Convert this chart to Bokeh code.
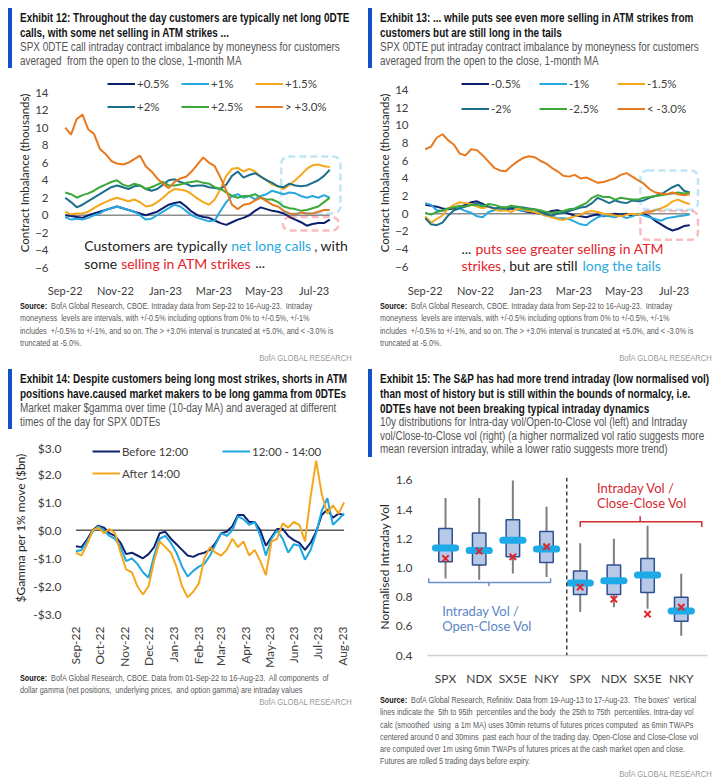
import math
import pandas as pd
from bokeh.plotting import figure
from bokeh.models import (Div, Legend, LegendItem, BoxAnnotation, Label, Span,
                          FixedTicker, MonthsTicker, DatetimeTickFormatter, Range1d,
                          PrintfTickFormatter)
from bokeh.layouts import row, column
from bokeh.embed import file_html
from bokeh.resources import INLINE

# ------------------------------------------------------------------ data
# Exhibits 12/13: weekly readings, 1-month MA contract imbalance (thousands)
imb_dates = pd.date_range("2022-09-01", periods=47, freq="7D")
call_names = ["+0.5%", "+1%", "+1.5%", "+2%", "+2.5%", "> +3.0%"]
call_p05 = [0.0,-0.1,-0.2,-0.3,0.0,0.2,0.4,0.6,0.8,1.0,
            0.8,0.6,0.4,0.2,0.0,0.2,0.4,0.8,1.2,1.4,
            1.5,1.0,0.4,0.0,-0.2,-0.3,-0.6,-0.9,-1.1,-0.8,
            -0.5,-0.3,0.0,0.5,0.9,0.7,0.5,0.4,0.2,-0.2,
            -0.5,-0.8,-1.2,-1.0,-0.9,-0.9,-0.5]
call_p10 = [-0.2,-0.5,-0.4,-0.5,-0.3,0.0,0.2,0.6,0.8,1.0,
            0.8,0.6,0.4,0.0,-0.5,-0.4,0.0,0.4,0.8,1.2,
            1.0,0.5,0.0,-0.3,-0.5,-0.7,-0.6,0.5,1.5,2.2,
            2.4,2.0,2.2,1.8,2.2,2.4,2.8,2.6,2.4,2.6,
            2.5,2.2,2.0,2.2,2.0,2.3,2.0]
call_p15 = [0.4,0.1,0.2,0.2,0.4,0.8,1.2,1.5,1.8,2.0,
            1.8,1.6,1.8,1.5,1.0,1.1,1.5,2.0,2.6,3.0,
            2.9,2.8,2.4,1.9,1.5,1.2,1.8,3.0,4.5,5.3,
            5.4,5.0,5.3,5.0,4.4,4.0,3.5,3.3,3.0,3.5,
            4.0,4.6,5.3,5.7,5.8,5.6,5.5]
call_p20 = [2.0,1.5,0.9,1.2,1.6,2.0,2.4,2.8,3.2,3.4,
            3.2,3.0,3.3,3.4,3.0,2.8,3.0,3.5,4.0,4.1,
            3.8,3.6,3.3,3.4,3.4,3.2,3.1,3.0,3.5,4.5,
            5.0,4.3,4.6,4.8,4.4,4.0,3.7,3.3,3.2,3.6,
            3.4,3.3,3.4,3.7,4.0,4.5,5.2]
call_p25 = [2.6,2.4,2.0,2.3,2.5,2.8,3.2,3.5,3.8,4.0,
            3.5,3.3,3.6,3.4,3.0,3.2,3.5,3.8,3.4,3.4,
            3.5,3.7,3.8,3.9,3.7,3.6,3.2,3.0,2.6,2.2,
            2.0,2.2,2.2,2.4,2.0,1.8,1.8,1.5,1.0,0.8,
            0.7,0.5,0.6,0.8,1.0,1.5,2.0]
call_p30 = [10.0,9.2,11.0,11.5,9.8,9.3,7.6,7.0,6.2,5.9,
            5.8,6.0,6.4,6.8,5.6,5.0,4.2,3.6,3.1,3.8,
            4.2,4.4,5.0,5.8,6.6,6.0,5.6,4.3,2.8,1.2,
            0.7,1.2,1.3,1.7,2.0,1.6,1.2,1.0,0.5,0.2,
            0.1,0.3,0.2,0.2,0.4,0.6,0.6]

put_names = ["-0.5%", "-1%", "-1.5%", "-2%", "-2.5%", "< -3.0%"]
put_m05 = [1.0,0.9,0.8,0.6,0.5,0.6,0.8,1.0,1.3,1.4,
           1.1,0.8,0.6,0.4,0.5,0.6,0.5,0.3,0.2,0.1,
           0.0,0.1,0.3,0.4,0.2,0.0,-0.2,-0.3,-0.4,-0.2,
           -0.1,-0.3,-0.2,0.0,-0.1,0.0,-0.2,-0.1,0.0,-0.3,
           -0.8,-1.2,-1.6,-1.9,-1.7,-1.4,-1.3]
put_m10 = [1.2,1.0,0.4,0.3,0.6,0.8,0.6,0.3,0.1,-0.3,
           -0.4,0.2,0.4,0.5,0.7,0.9,0.5,0.3,0.4,0.2,
           0.0,-0.2,-0.3,-0.5,-0.5,-0.6,-0.9,-1.2,-1.3,-0.8,
           -0.4,-0.2,-0.3,-0.4,-0.2,-0.5,-0.3,0.0,-0.2,-0.4,
           -0.6,-0.8,-0.5,-0.4,-0.3,-0.2,-0.1]
put_m15 = [-0.3,-1.0,-0.6,-0.2,0.6,1.0,1.3,1.2,1.1,0.8,
           0.6,0.8,0.5,0.3,0.4,0.2,0.6,0.5,0.3,0.2,
           0.0,-0.2,-0.4,-0.6,-0.7,-0.5,-0.3,-0.1,0.2,0.3,
           0.2,0.0,-0.1,-0.2,-0.3,-0.1,0.0,-0.1,0.1,0.2,
           0.4,0.6,0.9,1.4,1.6,1.3,1.1]
put_m20 = [-0.5,-1.2,-1.3,-1.0,-0.2,0.4,0.6,0.8,1.0,1.2,
           1.0,0.8,0.6,0.7,0.6,0.7,0.8,0.7,0.6,0.5,
           0.2,-0.1,-0.2,0.0,0.1,0.3,0.5,0.7,0.8,1.2,
           1.8,1.5,1.2,1.5,1.3,1.2,1.5,1.4,1.5,1.8,
           2.0,2.2,2.6,3.0,3.3,2.6,2.4]
put_m25 = [0.1,-0.1,0.2,0.4,0.6,0.7,0.9,0.8,1.0,1.0,
           0.8,1.1,1.0,0.8,0.7,0.9,0.8,0.6,0.5,0.5,
           0.4,0.2,0.1,0.2,0.3,0.5,0.6,0.9,1.2,1.8,
           2.1,1.9,1.9,1.6,1.8,1.7,1.6,1.6,1.8,1.9,
           2.0,2.1,2.2,2.3,2.4,2.3,2.4]
put_m30 = [7.3,7.6,8.6,9.0,8.3,7.8,6.8,6.6,7.3,7.2,
           6.6,5.9,5.2,4.9,4.8,5.4,5.9,6.3,6.5,6.4,
           6.0,5.7,5.2,4.8,4.3,4.2,4.4,4.0,4.1,3.8,
           3.5,3.6,3.8,4.0,4.4,4.6,4.2,3.8,3.4,2.8,
           2.4,2.3,2.2,2.4,2.2,2.1,2.2]

# Exhibit 14: weekly readings of market maker $gamma ($bn)
gam_dates = pd.date_range("2022-09-01", periods=49, freq="7D")
gam_names = ["Before 12:00", "12:00 - 14:00", "After 14:00"]
gam_before12 = [-0.57,-0.6,-0.33,0.0,0.17,0.1,-0.1,-0.2,-0.45,-0.85,
                -0.8,-0.9,-1.0,-0.85,-0.6,-0.1,-0.05,-0.3,-0.5,-0.7,
                -0.9,-0.95,-0.85,-0.8,-0.7,-0.45,-0.1,-0.05,0.15,0.55,
                0.55,0.3,0.3,0.0,-0.55,-0.25,0.05,0.05,-0.2,-0.35,
                -0.45,-0.7,-0.45,-0.05,0.55,0.75,0.45,0.6,0.55]
gam_12to14 = [-0.75,-0.7,-0.4,-0.05,0.15,0.0,-0.2,-0.3,-0.6,-1.1,
              -1.0,-1.2,-1.5,-1.7,-0.9,-0.3,-0.2,-0.45,-0.8,-1.3,
              -1.65,-1.45,-1.3,-1.2,-0.9,-0.5,-0.1,-0.2,0.0,0.5,
              0.4,0.2,0.3,-0.2,-0.9,-0.3,0.0,-0.3,-0.8,-0.5,
              -0.55,-1.05,-0.7,-0.1,0.7,1.15,0.2,0.4,0.6]
gam_after14 = [-0.8,-0.9,-0.5,0.0,0.1,-0.1,0.05,-0.1,-0.8,-1.4,
               -1.5,-2.0,-2.3,-2.0,-1.1,-0.4,-0.6,-0.8,-1.3,-2.0,
               -2.4,-2.2,-1.9,-1.0,-0.6,-0.8,-0.9,-0.7,-0.3,-0.6,
               -0.4,-0.9,-0.7,-1.1,-1.6,-0.4,-0.3,0.25,0.1,0.3,
               0.2,-0.4,1.2,2.5,1.3,0.6,0.9,0.6,1.0]
gam_tick_labels = {3: "$3.0", 2: "$2.0", 1: "$1.0", 0: "$0.0",
                   -1: "-$1.0", -2: "-$2.0", -3: "-$3.0"}

# Exhibit 15: 10y distributions of normalised intraday vol
vol_labels = ["SPX", "NDX", "SX5E", "NKY", "SPX", "NDX", "SX5E", "NKY"]
vol_p95 = [1.48, 1.48, 1.60, 1.42, 1.17, 1.20, 1.29, 0.96]
vol_q75 = [1.27, 1.24, 1.33, 1.25, 0.98, 1.02, 1.065, 0.80]
vol_med = [1.137, 1.12, 1.19, 1.13, 0.897, 0.912, 0.952, 0.705]
vol_q25 = [1.043, 1.021, 1.076, 1.037, 0.818, 0.818, 0.831, 0.635]
vol_p05 = [0.927, 0.919, 0.962, 0.938, 0.698, 0.731, 0.72, 0.535]
vol_latest = [1.065, 1.115, 1.076, 1.146, 0.869, 0.786, 0.683, 0.731]

# ------------------------------------------------------------------ style
NAVY, LBLUE, GOLD = "#0D1F6E", "#2AA9E0", "#F5A81C"
TEAL, GREEN, ORANGE = "#1C6F8C", "#3CA83A", "#E8791E"
RED = "#E4232B"
BLK = "#222222"
FONT = "'Liberation Sans', Arial, sans-serif"
CF = "Lato"
COLW = 360


def ms(d):
    return pd.Timestamp(d).value / 1e6


def text_line(txt, size, weight, color, scale, lh, align="left"):
    origin = "0 50%" if align == "left" else "100% 50%"
    return (f'<div style="white-space:nowrap;overflow:hidden;height:{lh}px;'
            f'line-height:{lh}px;text-align:{align};width:100%;">'
            f'<span style="display:inline-block;transform:scaleX({scale});'
            f'transform-origin:{origin};font-family:{FONT};font-size:{size}px;'
            f'font-weight:{weight};color:{color};">{txt}</span></div>')


def header(titles, subs, height, top, sub_lh=14):
    inner = "".join(text_line(t, 13, 700, "#141414", 0.765, 15) for t in titles)
    inner += "".join(text_line(s, 12.5, 400, "#555555", 0.795, sub_lh) for s in subs)
    html = (f'<div style="box-sizing:border-box;width:{COLW}px;padding-top:{top}px;padding-left:8px;">'
            f'<div style="box-sizing:border-box;width:{COLW - 8}px;border-left:4px solid #1450C8;'
            f'padding-left:8px;padding-top:2px;">{inner}</div></div>')
    return Div(text=html, width=COLW, height=height, margin=(0, 0, 0, 0), disable_math=True)


def source(lines, height, top, lh=12.3, gap=3):
    inner = "".join(text_line(l, 9.5, 400, "#595959", 0.765, lh) for l in lines)
    inner += f'<div style="height:{gap}px"></div>'
    inner += text_line("BofA GLOBAL RESEARCH", 9.5, 400, "#9A9A9A", 0.8, lh, "right")
    html = (f'<div style="box-sizing:border-box;width:{COLW}px;'
            f'padding:{top}px 8px 0 20px;">{inner}</div>')
    return Div(text=html, width=COLW, height=height, margin=(0, 0, 0, 0), disable_math=True)


def style_axes(p, tick_size, title_size):
    for ax in p.axis:
        ax.axis_line_color = None
        ax.major_tick_line_color = None
        ax.minor_tick_line_color = None
        ax.major_label_text_font = CF
        ax.major_label_text_font_size = tick_size
        ax.major_label_text_color = "#3C3C3C"
        ax.axis_label_text_font = CF
        ax.axis_label_text_font_size = title_size
        ax.axis_label_text_font_style = "normal"
        ax.axis_label_text_color = "#262626"
    p.grid.visible = False


LEG_STYLE = dict(orientation="horizontal", glyph_width=28, label_standoff=2, spacing=0,
                 padding=0, margin=0, background_fill_alpha=0, border_line_color=None,
                 label_text_font=CF, label_text_font_size="11.5px", label_text_color="#404040")

FH_IMB = 206


def imbalance_fig(series, names, yr, leg_x, leg_ys, leg_lw, boxes, texts):
    p = figure(width=COLW, height=229, x_axis_type="datetime",
               x_range=Range1d(ms("2022-08-25"), ms("2023-08-24")),
               y_range=Range1d(*yr),
               min_border_left=59, min_border_right=2, min_border_top=2,
               min_border_bottom=21, output_backend="svg", toolbar_location=None,
               outline_line_color=None, margin=(0, 0, 0, 0))
    style_axes(p, "11.5px", "11.5px")
    p.xaxis.major_label_text_font_size = "11px"
    p.yaxis.ticker = FixedTicker(ticks=list(range(-6, 15, 2)))
    p.xaxis.ticker = MonthsTicker(months=[0, 2, 4, 6, 8, 10])
    p.xaxis.formatter = DatetimeTickFormatter(days="%b-%y", months="%b-%y", years="%b-%y")
    p.xaxis.major_label_standoff = 4
    p.yaxis.major_label_standoff = 5
    p.yaxis.axis_label_standoff = 1
    p.yaxis.axis_label = "Contract Imbalance (thousands)"
    p.segment(x0=[imb_dates[0]], y0=[0], x1=[imb_dates[-1]], y1=[0],
              line_color="#8C8C8C", line_width=1.5)
    colors = [NAVY, LBLUE, GOLD, TEAL, GREEN, ORANGE]
    rs = [p.line(imb_dates, s, line_color=c, line_width=2) for s, c in zip(series, colors)]
    for k, ly in enumerate(leg_ys):
        items = [LegendItem(label=n, renderers=[r])
                 for n, r in zip(names[3 * k:3 * k + 3], rs[3 * k:3 * k + 3])]
        p.add_layout(Legend(items=items, location=(leg_x, ly), glyph_height=23,
                            label_height=23, label_width=leg_lw, **LEG_STYLE))
    for (l, r, t, b, c) in boxes:
        p.add_layout(BoxAnnotation(left=ms(l), right=ms(r), top=t, bottom=b,
                                   fill_alpha=0, line_color=c, line_width=2.5,
                                   line_dash="7 4", border_radius=7))
    for (x, y, off, txt, c) in texts:
        p.add_layout(Label(x=ms(x), y=y, x_offset=off, text=txt, text_color=c,
                           text_font=CF, text_font_size="14px", text_baseline="middle"))
    return p


# ------------------------------------------------------------------ exhibit 12
hdr12 = header(["Exhibit 12: Throughout the day customers are typically net long 0DTE",
                "calls, with some net selling in ATM strikes ..."],
               ["SPX 0DTE call intraday contract imbalance by moneyness for customers",
                "averaged&nbsp; from the open to the close, 1-month MA"], 70, 8)
p12 = imbalance_fig([call_p05, call_p10, call_p15, call_p20, call_p25, call_p30],
                    call_names, (-6.66, 16.31), 48, [178, 155], 44,
                    [("2023-05-22", "2023-08-02", 6.7, 0.2, LBLUE),
                     ("2023-05-24", "2023-07-31", -0.2, -1.75, RED)],
                    [("2022-09-24", -3.43, 0, "Customers are typically", BLK),
                     ("2022-09-24", -3.43, 147, "net long calls", LBLUE),
                     ("2022-09-24", -3.43, 230, ", with", BLK),
                     ("2022-09-24", -5.47, 0, "some", BLK),
                     ("2022-09-24", -5.47, 37, "selling in ATM strikes", RED),
                     ("2022-09-24", -5.47, 171, "...", BLK)])
src_common = ["<b style='color:#111'>Source:</b>&nbsp; BofA Global Research, CBOE. Intraday data from Sep-22 to 16-Aug-23.&nbsp; Intraday",
              "moneyness&nbsp; levels are intervals, with +/-0.5% including options from 0% to +/-0.5%, +/-1%",
              "includes&nbsp; +/-0.5% to +/-1%, and so on. The &gt; +3.0% interval is truncated at +5.0%, and &lt; -3.0% is",
              "truncated at -5.0%."]
src12 = source(src_common, 61, 0)

# ------------------------------------------------------------------ exhibit 13
hdr13 = header(["Exhibit 13: ... while puts see even more selling in ATM strikes from",
                "customers but are still long in the tails"],
               ["SPX 0DTE put intraday contract imbalance by moneyness for customers",
                "averaged from the open to the close, 1-month MA"], 70, 8)
p13 = imbalance_fig([put_m05, put_m10, put_m15, put_m20, put_m25, put_m30],
                    put_names, (-6.77, 15.99), 42, [178, 153], 48,
                    [("2023-05-21", "2023-07-30", 4.9, 0.45, LBLUE),
                     ("2023-05-21", "2023-07-30", 0.3, -2.95, RED)],
                    [("2022-10-15", -3.98, 0, "...", BLK),
                     ("2022-10-15", -3.98, 14, "puts see greater selling in ATM", RED),
                     ("2022-10-15", -5.89, 0, "strikes", RED),
                     ("2022-10-15", -5.89, 41, ", but are still", BLK),
                     ("2022-10-15", -5.89, 121, "long the tails", LBLUE)])
src13 = source(src_common, 61, 0)

# ------------------------------------------------------------------ exhibit 14
hdr14 = header(["Exhibit 14: Despite customers being long most strikes, shorts in ATM",
                "positions have.caused market makers to be long gamma from 0DTEs"],
               ["Market maker $gamma over time (10-day MA) and averaged at different",
                "times of the day for SPX 0DTEs"], 80, 9)
FH14 = 175
p14 = figure(width=COLW, height=FH14 + 56, x_axis_type="datetime",
             x_range=Range1d(ms("2022-08-29"), ms("2023-08-06")),
             y_range=Range1d(-3.05, 3.22),
             min_border_left=73, min_border_right=14, min_border_top=0,
             min_border_bottom=56, output_backend="svg", toolbar_location=None,
             outline_line_color=None, margin=(0, 0, 0, 0))
style_axes(p14, "12px", "12px")
p14.yaxis.ticker = FixedTicker(ticks=[-3, -2, -1, 0, 1, 2, 3])
p14.yaxis.major_label_overrides = gam_tick_labels
p14.yaxis.major_label_standoff = 6
p14.yaxis.axis_label_standoff = 2
p14.yaxis.axis_label = "$Gamma per 1% move ($bn)"
p14.xaxis.ticker = MonthsTicker(months=list(range(12)))
p14.xaxis.formatter = DatetimeTickFormatter(days="%b-%y", months="%b-%y", years="%b-%y")
p14.xaxis.major_label_orientation = math.pi / 2
p14.xaxis.major_label_standoff = 5
p14.segment(x0=[gam_dates[0]], y0=[0], x1=[gam_dates[-1]], y1=[0],
            line_color="#595959", line_width=1.5)
r14 = [p14.line(gam_dates, s, line_color=c, line_width=2)
       for s, c in zip([gam_before12, gam_12to14, gam_after14], ["#0D2270", "#1DA6E2", "#F4A71D"])]
p14.add_layout(Legend(items=[LegendItem(label=gam_names[0], renderers=[r14[0]]),
                             LegendItem(label=gam_names[1], renderers=[r14[1]])],
                     location=(19, FH14 - 22), glyph_height=22, label_height=22,
                     label_width=100, **LEG_STYLE))
p14.add_layout(Legend(items=[LegendItem(label=gam_names[2], renderers=[r14[2]])],
                     location=(19, FH14 - 44), glyph_height=22, label_height=22,
                     label_width=100, **LEG_STYLE))
src14 = source(["<b style='color:#111'>Source:</b>&nbsp; BofA Global Research, CBOE. Data from 01-Sep-22 to 16-Aug-23.&nbsp; All components&nbsp; of",
                "dollar gamma (net positions,&nbsp; underlying prices,&nbsp; and option gamma) are intraday values"],
               784 - 360 - 80 - (FH14 + 56), 0, lh=12, gap=0)

# ------------------------------------------------------------------ exhibit 15
hdr15 = header(["Exhibit 15: The S&amp;P has had more trend intraday (low normalised vol)",
                "than most of history but is still within the bounds of normalcy, i.e.",
                "0DTEs have not been breaking typical intraday dynamics"],
               ["10y distributions for Intra-day vol/Open-to-Close vol (left) and Intraday",
                "vol/Close-to-Close vol (right) (a higher normalized vol ratio suggests more",
                "mean reversion intraday, while a lower ratio suggests more trend)"], 110, 9,
               sub_lh=13.5)
xs = list(range(1, len(vol_labels) + 1))
p15 = figure(width=COLW, height=218, x_range=Range1d(0.465, 8.78), y_range=Range1d(0.4, 1.62),
             min_border_left=67, min_border_right=13, min_border_top=7,
             min_border_bottom=25, output_backend="svg", toolbar_location=None,
             outline_line_color=None, margin=(0, 0, 0, 0))
style_axes(p15, "12px", "12px")
p15.xaxis.axis_line_color = "#D0D0D0"
p15.xaxis.axis_line_width = 1.5
p15.xaxis.ticker = FixedTicker(ticks=xs)
p15.xaxis.major_label_overrides = {x: l for x, l in zip(xs, vol_labels)}
p15.xaxis.major_label_standoff = 9
p15.yaxis.ticker = FixedTicker(ticks=[0.4, 0.6, 0.8, 1.0, 1.2, 1.4, 1.6])
p15.yaxis.formatter = PrintfTickFormatter(format="%.1f")
p15.yaxis.major_label_standoff = 9
p15.yaxis.axis_label_standoff = 1
p15.yaxis.axis_label = "Normalised Intraday Vol"
p15.add_layout(Span(location=4.6, dimension="height", line_color="#404040",
                    line_dash="4 3", line_width=1.5))
p15.segment(x0=xs, y0=vol_p05, x1=xs, y1=vol_p95, line_color="#7F7F7F", line_width=2)
p15.quad(left=[x - 0.2 for x in xs], right=[x + 0.2 for x in xs], top=vol_q75, bottom=vol_q25,
         fill_color="#B7C9E6", line_color="#2F4F8F", line_width=1.5)
p15.segment(x0=[x - 0.3 for x in xs], y0=vol_med, x1=[x + 0.3 for x in xs], y1=vol_med,
            line_color="#1EAAE7", line_width=7, line_cap="round")
p15.scatter(xs, vol_latest, marker="x", size=9, line_color=RED, line_width=2)
p15.multi_line(xs=[[0.5, 0.5, 4.12, 4.12], [2.29, 2.29]],
               ys=[[0.93, 0.9, 0.9, 0.93], [0.9, 0.875]], line_color="#6A8FC9", line_width=1.5)
p15.multi_line(xs=[[5.0, 5.0, 8.61, 8.61], [6.78, 6.78]],
               ys=[[1.28, 1.316, 1.316, 1.28], [1.316, 1.355]], line_color="#D42A2F", line_width=1.5)
for (x, y, t, c) in [(0.9, 0.705, "Intraday Vol /", "#5B86C5"),
                     (0.9, 0.60, "Open-Close Vol", "#5B86C5"),
                     (5.5, 1.545, "Intraday Vol /", "#D42A2F"),
                     (5.5, 1.447, "Close-Close Vol", "#D42A2F")]:
    p15.add_layout(Label(x=x, y=y, text=t, text_color=c, text_font=CF,
                         text_font_size="13px", text_baseline="middle"))
src15 = source(["<b style='color:#111'>Source:</b>&nbsp; BofA Global Research, Refinitiv. Data from 19-Aug-13 to 17-Aug-23.&nbsp; The boxes'&nbsp; vertical",
                "lines indicate the&nbsp; 5th to 95th&nbsp; percentiles and the body&nbsp; the 25th to 75th&nbsp; percentiles. Intra-day vol",
                "calc (smoothed&nbsp; using&nbsp; a 1m MA) uses 30min returns of futures prices computed&nbsp; as 6min TWAPs",
                "centered around 0 and 30mins&nbsp; past each hour of the trading day. Open-Close and Close-Close vol",
                "are computed over 1m using 6min TWAPs of futures prices at the cash market open and close.",
                "Futures are rolled 5 trading days before expiry."], 784 - 360 - 110 - 218, 5, gap=0)

# ------------------------------------------------------------------ layout
top = row(column(hdr12, p12, src12, spacing=0), column(hdr13, p13, src13, spacing=0), spacing=0)
bottom = row(column(hdr14, p14, src14, spacing=0), column(hdr15, p15, src15, spacing=0), spacing=0)
page = column(top, bottom, spacing=0)

open("out.html", "w").write(file_html(page, INLINE, title="0DTE exhibits"))
